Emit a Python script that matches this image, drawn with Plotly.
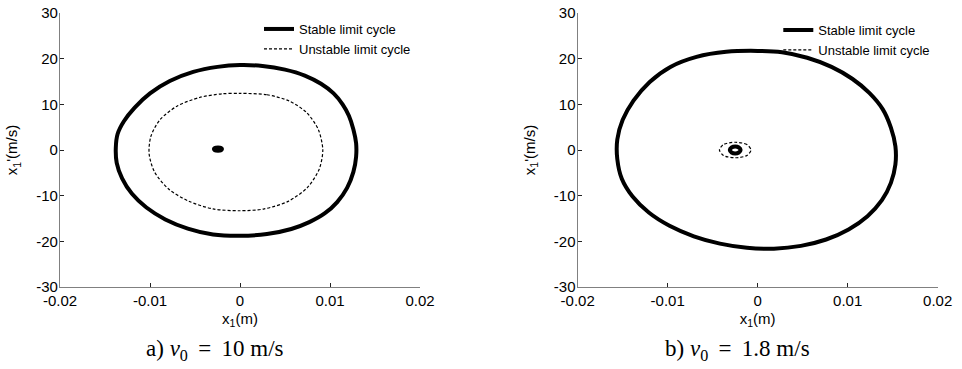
import plotly.graph_objects as go

# Phase-plane trajectories x1 (m) vs x1' (m/s)

# a) v0 = 10 m/s
a_stable_x = [0.0000, 0.0025, 0.0050, 0.0072, 0.0090, 0.0104, 0.0114, 0.0121, 0.0126, 0.0129,
              0.0129, 0.0126, 0.0119, 0.0108, 0.0094, 0.0077, 0.0057, 0.0030, 0.0000, -0.0030,
              -0.0058, -0.0083, -0.0104, -0.0120, -0.0131, -0.0137, -0.0138, -0.0136, -0.0129,
              -0.0117, -0.0100, -0.0078, -0.0052, -0.0025, 0.0000]
a_stable_y = [18.6, 18.4, 17.6, 16.3, 14.5, 12.4, 10.0, 7.5, 4.5, 1.5,
              -1.5, -4.8, -8.3, -11.4, -13.9, -15.8, -17.3, -18.4, -18.8, -18.5,
              -17.2, -15.2, -12.6, -9.6, -6.2, -2.8, 0.5, 3.5, 6.3,
              9.3, 12.4, 15.1, 17.1, 18.2, 18.6]

a_unstable_x = [0.0000, 0.0030, 0.0055, 0.0074, 0.0087, 0.0092, 0.0088, 0.0075, 0.0054, 0.0027,
                0.0000, -0.0030, -0.0057, -0.0079, -0.0095, -0.0101, -0.0099, -0.0089, -0.0070,
                -0.0045, -0.0020, 0.0000]
a_unstable_y = [12.4, 12.1, 10.7, 8.2, 4.5, 0.0, -4.2, -8.2, -11.2, -12.9,
                -13.3, -12.9, -11.2, -8.6, -4.8, -0.8, 3.0, 6.6, 9.6,
                11.5, 12.3, 12.4]

a_inner_x = [-0.0020, -0.0021, -0.00244, -0.0028, -0.0029, -0.0028, -0.00244, -0.0021, -0.0020]
a_inner_y = [0.2, 0.45, 0.55, 0.45, 0.2, -0.05, -0.15, -0.05, 0.2]

# b) v0 = 1.8 m/s
b_stable_x = [0.0000, 0.0027, 0.0055, 0.0082, 0.0105, 0.0124, 0.0139, 0.0148, 0.0153, 0.0153,
              0.0148, 0.0138, 0.0122, 0.0101, 0.0076, 0.0048, 0.0018, -0.0012, -0.0042, -0.0071,
              -0.0098, -0.0121, -0.0139, -0.0151, -0.0156, -0.0156, -0.0150, -0.0138, -0.0120,
              -0.0097, -0.0068, -0.0035, 0.0000]
b_stable_y = [21.7, 21.4, 20.2, 18.2, 15.6, 12.5, 8.9, 4.9, 0.8, -3.2,
              -7.2, -11.0, -14.5, -17.4, -19.6, -21.0, -21.6, -21.4, -20.5, -18.9,
              -16.6, -13.7, -10.2, -6.3, -2.0, 2.3, 6.6, 10.8, 14.9,
              18.2, 20.4, 21.5, 21.7]

b_unstable_x = [-0.00075, -0.0012, -0.0025, -0.0038, -0.00425, -0.0038, -0.0025, -0.0012, -0.00075]
b_unstable_y = [0.0, 1.2, 1.7, 1.2, 0.0, -1.2, -1.7, -1.2, 0.0]

b_inner_x = [-0.0019, -0.0021, -0.0025, -0.0029, -0.0031, -0.0029, -0.0025, -0.0021, -0.0019]
b_inner_y = [0.0, 0.55, 0.75, 0.55, 0.0, -0.55, -0.75, -0.55, 0.0]

x_ticks = [-0.02, -0.01, 0, 0.01, 0.02]
x_tick_text = ["-0.02", "-0.01", "0", "0.01", "0.02"]
y_ticks = [-30, -20, -10, 0, 10, 20, 30]
y_tick_text = ["-30", "-20", "-10", "0", "10", "20", "30"]

captions = ["a) <i>v</i><sub>0</sub>\u2009 = \u200910 m/s", "b) <i>v</i><sub>0</sub>\u2009 = \u20091.8 m/s"]

SANS = "Liberation Sans, Arial, sans-serif"
SERIF = "Liberation Serif, Times New Roman, serif"

stable_line = dict(color="black", width=4, shape="spline", smoothing=0.8)
unstable_line = dict(color="black", width=1.2, dash="3px,2px", shape="spline", smoothing=0.8)

fig = go.Figure()

panels = [
    ("x", "y", "legend", a_stable_x, a_stable_y, a_unstable_x, a_unstable_y, a_inner_x, a_inner_y),
    ("x2", "y2", "legend2", b_stable_x, b_stable_y, b_unstable_x, b_unstable_y, b_inner_x, b_inner_y),
]
for xa, ya, lg, sx, sy, ux, uy, ix, iy in panels:
    fig.add_trace(go.Scatter(x=sx, y=sy, mode="lines", line=stable_line,
                             name="Stable limit cycle", xaxis=xa, yaxis=ya, legend=lg))
    fig.add_trace(go.Scatter(x=ux, y=uy, mode="lines", line=unstable_line,
                             name="Unstable limit cycle", xaxis=xa, yaxis=ya, legend=lg))
    fig.add_trace(go.Scatter(x=ix, y=iy, mode="lines", line=stable_line,
                             showlegend=False, xaxis=xa, yaxis=ya, hoverinfo="skip"))

W, H = 962, 369

def xaxis(domain):
    return dict(domain=domain, range=[-0.02, 0.02], tickmode="array",
                tickvals=x_ticks, ticktext=x_tick_text, showline=True,
                linecolor="#808080", linewidth=1.3, ticks="inside", ticklen=4,
                tickcolor="#222", showgrid=False, zeroline=False, mirror=False,
                automargin=False, ticklabelstandoff=0,
                tickfont=dict(family=SANS, size=15, color="black"),
                title=dict(text="x<sub>1</sub>(m)", standoff=5,
                           font=dict(family=SANS, size=15, color="black")))

def yaxis(domain, anchor):
    return dict(domain=domain, range=[-30, 30], tickmode="array", anchor=anchor,
                tickvals=y_ticks, ticktext=y_tick_text, showline=True,
                linecolor="#808080", linewidth=1.3, ticks="inside", ticklen=4,
                tickcolor="#222", showgrid=False, zeroline=False, mirror=False,
                automargin=False, ticklabelstandoff=-2,
                tickfont=dict(family=SANS, size=15, color="black"),
                title=dict(text="x<sub>1</sub>'(m/s)", standoff=14,
                           font=dict(family=SANS, size=15, color="black")))

ydom = [1 - 287 / H, 1 - 13 / H]
fig.update_layout(
    template="none",
    width=W, height=H,
    margin=dict(l=0, r=0, t=0, b=0, autoexpand=False),
    paper_bgcolor="white", plot_bgcolor="white",
    xaxis=dict(xaxis([60 / W, 420 / W]), anchor="y"),
    yaxis=yaxis(ydom, "x"),
    xaxis2=dict(xaxis([577.7 / W, 937.7 / W]), anchor="y2"),
    yaxis2=yaxis(ydom, "x2"),
    legend=dict(x=259 / W, y=1 - 14 / H, xanchor="left", yanchor="top",
                bgcolor="rgba(0,0,0,0)", borderwidth=0, itemwidth=30,
                tracegroupgap=0, font=dict(family=SANS, size=13, color="black")),
    legend2=dict(x=778.3 / W, y=1 - 15 / H, xanchor="left", yanchor="top",
                 bgcolor="rgba(0,0,0,0)", borderwidth=0, itemwidth=30,
                 tracegroupgap=0, font=dict(family=SANS, size=13, color="black")),
    showlegend=True,
)

for text, cx in zip(captions, [215 / W, 737 / W]):
    fig.add_annotation(text=text, x=cx, y=1 - 350 / H, xref="paper", yref="paper",
                       xanchor="center", yanchor="middle", showarrow=False,
                       font=dict(family=SERIF, size=23, color="black"))

fig.write_html("out.html")
